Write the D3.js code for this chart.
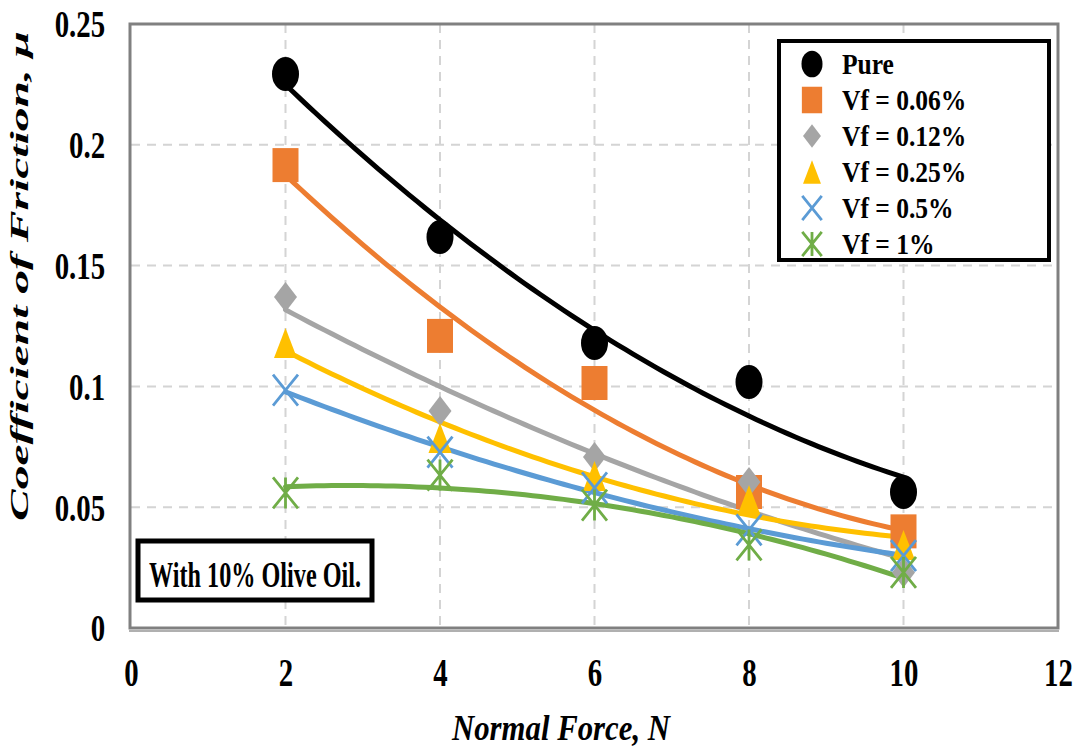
<!DOCTYPE html>
<html><head><meta charset="utf-8">
<script src="https://cdn.jsdelivr.net/npm/d3@7"></script>
<style>
html,body{margin:0;padding:0;background:#fff;}
svg{display:block;}
text{font-family:"Liberation Serif","Times New Roman",serif;font-weight:bold;fill:#000;}
</style></head>
<body>
<svg id="chart" width="1079" height="753"></svg>
<script>
// ---- data ----
const forces = [2, 4, 6, 8, 10];
const seriesNames = ["Pure", "Vf = 0.06%", "Vf = 0.12%", "Vf = 0.25%", "Vf = 0.5%", "Vf = 1%"];
const pure   = [0.2293, 0.1618, 0.118, 0.1018, 0.0563];
const vf006  = [0.1916, 0.1209, 0.1014, 0.0563, 0.0400];
const vf012  = [0.1370, 0.0898, 0.0708, 0.0604, 0.0230];
const vf025  = [0.1180, 0.0786, 0.0629, 0.0530, 0.0344];
const vf05   = [0.0985, 0.0728, 0.0580, 0.0406, 0.0300];
const vf1    = [0.0559, 0.0633, 0.0509, 0.0344, 0.0230];
const xTickValues = [0, 2, 4, 6, 8, 10, 12];
const yTickValues = [0, 0.05, 0.1, 0.15, 0.2, 0.25];
const yTickLabels = ["0", "0.05", "0.1", "0.15", "0.2", "0.25"];
const xTitle = "Normal Force, N";
const yTitle = "Coefficient of Friction, \u03bc";
const note = "With 10% Olive Oil.";

const allValues = [pure, vf006, vf012, vf025, vf05, vf1];
const colors = ["#000000", "#ED7D31", "#A5A5A5", "#FFC000", "#5B9BD5", "#70AD47"];
const shapes = ["circle", "square", "diamond", "triangle", "x", "star"];

const svg = d3.select("#chart");
const x = d3.scaleLinear().domain([0, 12]).range([131, 1058]);
const y = d3.scaleLinear().domain([0, 0.25]).range([628, 24]);

// grid
const grid = svg.append("g");
grid.selectAll("line.v").data(xTickValues.filter(d => d > 0 && d < 12)).join("line")
  .attr("x1", d => x(d)).attr("x2", d => x(d)).attr("y1", y(0.25)).attr("y2", y(0))
  .attr("stroke", "#d4d4d4").attr("stroke-width", 2).attr("stroke-dasharray", "9,7");
grid.selectAll("line.h").data(yTickValues.filter(d => d > 0 && d < 0.25)).join("line")
  .attr("x1", x(0)).attr("x2", x(12)).attr("y1", d => y(d)).attr("y2", d => y(d))
  .attr("stroke", "#d4d4d4").attr("stroke-width", 2).attr("stroke-dasharray", "9,7");

// frame
svg.append("rect").attr("x", x(0) - 1).attr("y", y(0.25)).attr("width", x(12) - x(0) + 1).attr("height", y(0) - y(0.25))
  .attr("fill", "none").attr("stroke", "#808080").attr("stroke-width", 3);
svg.append("line").attr("x1", x(0) - 2).attr("x2", x(12) + 1).attr("y1", y(0) + 3).attr("y2", y(0) + 3)
  .attr("stroke", "#b0b0b0").attr("stroke-width", 2);

// axes
const yAxis = svg.append("g").attr("transform", `translate(${x(0)},0)`)
  .call(d3.axisLeft(y).tickValues(yTickValues).tickFormat((d, i) => yTickLabels[i]).tickSize(0));
yAxis.select(".domain").remove();
yAxis.selectAll("text").attr("x", -34).attr("dy", "0.34em")
  .attr("transform", "scale(0.76,1)")
  .style("font-family", '"Liberation Serif",serif').style("font-weight", "bold").style("font-size", "38px").attr("fill", "#000");

const xAxis = svg.append("g").attr("transform", `translate(0,${y(0)})`)
  .call(d3.axisBottom(x).tickValues(xTickValues).tickFormat(d3.format("d")).tickSize(0));
xAxis.select(".domain").remove();
xAxis.selectAll("text").attr("y", 58).attr("dy", 0)
  .attr("transform", "scale(0.72,1)")
  .style("font-family", '"Liberation Serif",serif').style("font-weight", "bold").style("font-size", "40px").attr("fill", "#000");

// titles
svg.append("text").attr("x", 561).attr("y", 740).attr("text-anchor", "middle")
  .style("font-style", "italic").style("font-size", "35px")
  .attr("textLength", 218).attr("lengthAdjust", "spacingAndGlyphs").text(xTitle);
svg.append("text").attr("transform", "translate(28,276) rotate(-90)").attr("text-anchor", "middle")
  .style("font-style", "italic").style("font-size", "26px")
  .attr("textLength", 490).attr("lengthAdjust", "spacingAndGlyphs").text(yTitle);

// quadratic least squares trendline (Excel polynomial trendline, order 2)
function quadFit(xs, ys) {
  const n = xs.length;
  let s = [0, 0, 0, 0, 0], t = [0, 0, 0];
  for (let i = 0; i < n; i++) {
    const xi = xs[i], yi = ys[i];
    for (let k = 0; k < 5; k++) s[k] += Math.pow(xi, k);
    for (let k = 0; k < 3; k++) t[k] += yi * Math.pow(xi, k);
  }
  const A = [[s[0], s[1], s[2], t[0]], [s[1], s[2], s[3], t[1]], [s[2], s[3], s[4], t[2]]];
  for (let c = 0; c < 3; c++) {
    for (let r = c + 1; r < 3; r++) {
      const f = A[r][c] / A[c][c];
      for (let k = c; k < 4; k++) A[r][k] -= f * A[c][k];
    }
  }
  const b = [0, 0, 0];
  for (let r = 2; r >= 0; r--) {
    let v = A[r][3];
    for (let k = r + 1; k < 3; k++) v -= A[r][k] * b[k];
    b[r] = v / A[r][r];
  }
  return xv => b[0] + b[1] * xv + b[2] * xv * xv;
}

const line = d3.line().x(d => x(d[0])).y(d => y(d[1]));
const samples = d3.range(0, 81).map(i => 2 + i * 0.1);
const trend = svg.append("g");
allValues.forEach((vals, si) => {
  const f = quadFit(forces, vals);
  trend.append("path").datum(samples.map(s => [s, f(s)]))
    .attr("d", line).attr("fill", "none").attr("stroke", colors[si])
    .attr("stroke-width", 5).attr("stroke-linecap", "round");
});

// marker path builder (w,h)
function markerPath(shape, w, h) {
  const a = w / 2, b = h / 2;
  switch (shape) {
    case "square": return `M${-a},${-b}H${a}V${b}H${-a}Z`;
    case "diamond": return `M0,${-b}L${a},0L0,${b}L${-a},0Z`;
    case "triangle": return `M0,${-b}L${a},${b}L${-a},${b}Z`;
    case "x": return `M${-a},${-b}L${a},${b}M${a},${-b}L${-a},${b}`;
    case "star": return `M${-a},${-b}L${a},${b}M${a},${-b}L${-a},${b}M0,${-b}L0,${b}`;
  }
}
function drawMarker(g, shape, color, cx, cy, scale) {
  const k = scale || 1;
  if (shape === "circle") {
    g.append("ellipse").attr("cx", cx).attr("cy", cy).attr("rx", 13.5 * k).attr("ry", 17 * k).attr("fill", color);
  } else if (shape === "x" || shape === "star") {
    g.append("path").attr("transform", `translate(${cx},${cy})`).attr("d", markerPath(shape, 25 * k, 31 * k))
      .attr("fill", "none").attr("stroke", color).attr("stroke-width", 2.8);
  } else {
    const dims = { square: [26, 34], diamond: [23, 30], triangle: [23, 30] }[shape];
    g.append("path").attr("transform", `translate(${cx},${cy})`).attr("d", markerPath(shape, dims[0] * k, dims[1] * k))
      .attr("fill", color);
  }
}

const marks = svg.append("g");
allValues.forEach((vals, si) => {
  vals.forEach((v, i) => drawMarker(marks, shapes[si], colors[si], x(forces[i]), y(v), 1));
});

// legend
const lg = svg.append("g");
lg.append("rect").attr("x", 779).attr("y", 41).attr("width", 270).attr("height", 219)
  .attr("fill", "#fff").attr("stroke", "#000").attr("stroke-width", 4);
const rowsY = [64, 100, 136, 172, 208, 244];
seriesNames.forEach((name, i) => {
  drawMarker(lg, shapes[i], colors[i], 812, rowsY[i], 0.78);
  lg.append("text").attr("transform", `translate(842,${rowsY[i] + 10}) scale(0.88,1)`)
    .style("font-size", "29px").text(name);
});

// annotation
const an = svg.append("g");
an.append("rect").attr("x", 138).attr("y", 541).attr("width", 234).attr("height", 59)
  .attr("fill", "#fff").attr("stroke", "#000").attr("stroke-width", 5);
an.append("text").attr("x", 255).attr("y", 587).attr("text-anchor", "middle")
  .style("font-size", "35px").attr("textLength", 212).attr("lengthAdjust", "spacingAndGlyphs").text(note);
</script>
</body></html>
